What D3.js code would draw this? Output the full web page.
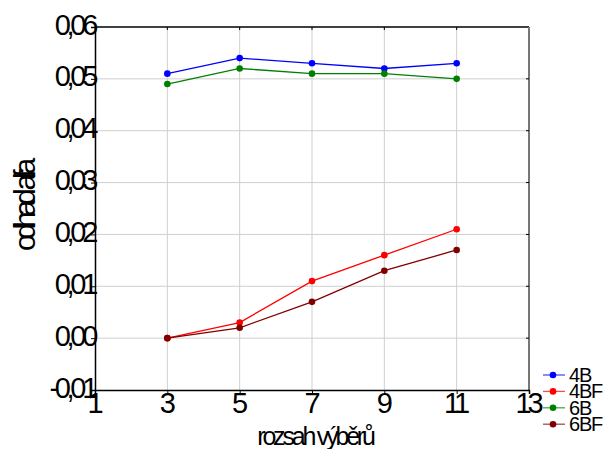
<!DOCTYPE html>
<html><head><meta charset="utf-8">
<script src="https://cdn.jsdelivr.net/npm/d3@7"></script>
<style>body{margin:0;background:#fff}svg{display:block;font-family:"Liberation Sans",Arial,sans-serif}</style>
</head><body><svg id="c" width="610" height="449"></svg>
<script>
const xValues = [3, 5, 7, 9, 11];
const seriesNames = ["4B", "4BF", "6B", "6BF"];
const seriesColors = ["#0000ff", "#ff0000", "#008000", "#800000"];
const s4B  = [0.051, 0.054, 0.053, 0.052, 0.053];
const s4BF = [0.000, 0.003, 0.011, 0.016, 0.021];
const s6B  = [0.049, 0.052, 0.051, 0.051, 0.050];
const s6BF = [0.000, 0.002, 0.007, 0.013, 0.017];
const xTicks = [1, 3, 5, 7, 9, 11, 13];
const yTicks = [-0.01, 0, 0.01, 0.02, 0.03, 0.04, 0.05, 0.06];
const yTickLabels = ["-0,01", "0,00", "0,01", "0,02", "0,03", "0,04", "0,05", "0,06"];
const xTitle = "rozsah výběrů";
const yTitle = "odhad alfa";

const series = [s4B, s4BF, s6B, s6BF];
const svg = d3.select("#c");
const L = 95, R = 529, T = 27, B = 390;
const x = d3.scaleLinear().domain([1, 13]).range([L, R]);
const y = d3.scaleLinear().domain([-0.01, 0.06]).range([B, T]);

// grid
svg.append("g").selectAll("line").data(xTicks.slice(1, -1)).join("line")
  .attr("x1", d => x(d)).attr("x2", d => x(d)).attr("y1", T).attr("y2", B)
  .attr("stroke", "#cfcfcf").attr("stroke-width", 1);
svg.append("g").selectAll("line").data(yTicks.slice(1, -1)).join("line")
  .attr("y1", d => y(d)).attr("y2", d => y(d)).attr("x1", L).attr("x2", R)
  .attr("stroke", "#cfcfcf").attr("stroke-width", 1);

// frame
svg.append("line").attr("x1", L).attr("x2", R).attr("y1", T).attr("y2", T).attr("stroke", "#000").attr("stroke-width", 1.5);
svg.append("line").attr("x1", R).attr("x2", R).attr("y1", T).attr("y2", B).attr("stroke", "#777").attr("stroke-width", 2);

// axes
const xAxis = d3.axisBottom(x).tickValues(xTicks).tickSize(4).tickFormat(d3.format("d"));
const gx = svg.append("g").attr("transform", `translate(0,${B})`).call(xAxis);
gx.select(".domain").attr("stroke-width", 1.5);
gx.selectAll("text").attr("font-size", 29).attr("letter-spacing", "-4px").attr("fill", "#000")
  .attr("dy", 0).attr("y", 23).attr("dx", -2);
const yAxis = d3.axisLeft(y).tickValues(yTicks).tickSize(4).tickFormat((d, i) => yTickLabels[i]);
const gy = svg.append("g").attr("transform", `translate(${L},0)`).call(yAxis);
gy.select(".domain").attr("stroke-width", 1.5);
gy.selectAll("text").attr("font-size", 29).attr("letter-spacing", "-4.3px").attr("fill", "#000")
  .attr("dy", 0).attr("y", 7).attr("x", -1);

// top/right small ticks
svg.append("g").selectAll("line").data(xTicks.slice(1, -1)).join("line")
  .attr("x1", d => x(d)).attr("x2", d => x(d)).attr("y1", T).attr("y2", T + 3).attr("stroke", "#000");
svg.append("g").selectAll("line").data(yTicks.slice(1, -1)).join("line")
  .attr("y1", d => y(d)).attr("y2", d => y(d)).attr("x1", R - 3).attr("x2", R).attr("stroke", "#000");

// series
const line = d3.line().x((d, i) => x(xValues[i])).y(d => y(d));
series.forEach((s, k) => {
  svg.append("path").datum(s).attr("d", line).attr("fill", "none")
    .attr("stroke", seriesColors[k]).attr("stroke-width", 1.3);
  svg.append("g").selectAll("circle").data(s).join("circle")
    .attr("cx", (d, i) => x(xValues[i])).attr("cy", d => y(d)).attr("r", 3.3)
    .attr("fill", seriesColors[k]);
});

// titles
svg.append("text").attr("x", 315).attr("y", 445).attr("text-anchor", "middle")
  .attr("font-size", 25).attr("letter-spacing", "-3.2px").text(xTitle);
svg.append("text").attr("transform", "translate(35,207) rotate(-90)").attr("text-anchor", "middle")
  .attr("font-size", 30).attr("letter-spacing", "-5.2px").text(yTitle);

// legend
const lg = svg.append("g");
seriesNames.forEach((n, k) => {
  const yy = 375 + k * 16.4;
  lg.append("line").attr("x1", 543).attr("x2", 565).attr("y1", yy).attr("y2", yy)
    .attr("stroke", seriesColors[k]).attr("stroke-width", 1.3).attr("opacity", 0.7);
  lg.append("circle").attr("cx", 553).attr("cy", yy).attr("r", 3.3).attr("fill", seriesColors[k]);
  lg.append("text").attr("x", 569).attr("y", yy + 7).attr("font-size", 20).attr("letter-spacing", "-1.2px").text(n);
});
</script></body></html>
